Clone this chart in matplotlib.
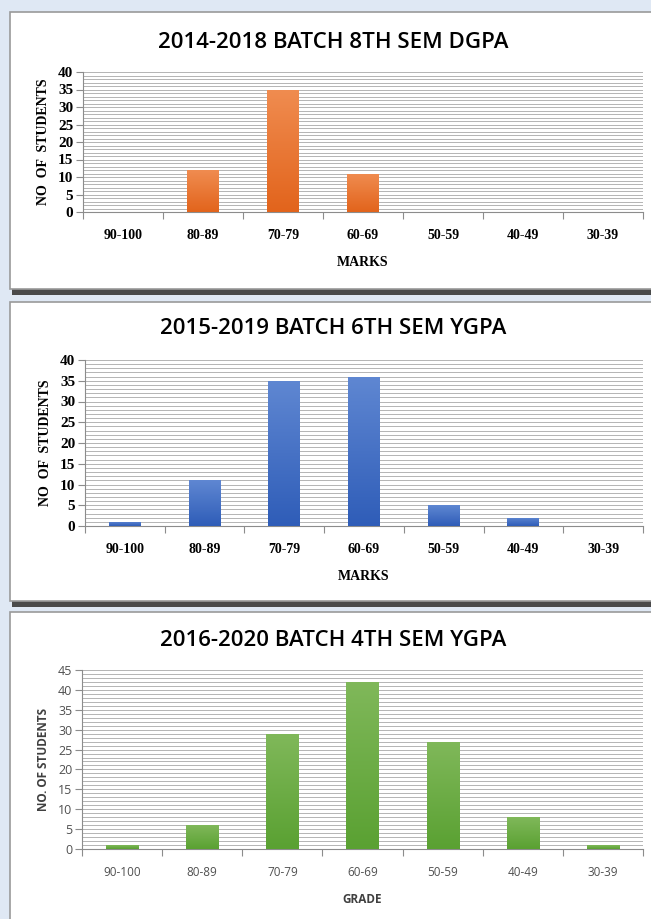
import numpy as np
import matplotlib.pyplot as plt
from matplotlib.patches import Rectangle
from matplotlib.ticker import MultipleLocator, FixedLocator

categories = ['90-100', '80-89', '70-79', '60-69', '50-59', '40-49', '30-39']
batch_2014 = [0, 12, 35, 11, 0, 0, 0]
batch_2015 = [1, 11, 35, 36, 5, 2, 0]
batch_2016 = [1, 6, 29, 42, 27, 8, 1]

titles = ['2014-2018 BATCH 8TH SEM DGPA', '2015-2019 BATCH 6TH SEM YGPA', '2016-2020 BATCH 4TH SEM YGPA']

W, H = 651, 919
fig = plt.figure(figsize=(W / 100, H / 100), dpi=100)
fig.patch.set_facecolor('#dfe8f4')


def fx(px):
    return px / W


def fy(py):
    return 1 - py / H


# white panels with a dark shadow underneath
panels = [(12, 289), (302, 601), (612, 925)]
for top, bot in panels:
    fig.add_artist(Rectangle((fx(12), fy(bot + 6)), 1, 6 / H,
                             transform=fig.transFigure, facecolor='#4a4a4a', edgecolor='none', zorder=0))
    fig.add_artist(Rectangle((fx(10), fy(bot)), 1, (bot - top) / H,
                             transform=fig.transFigure, facecolor='white', edgecolor='#9a9a9a',
                             linewidth=1.2, zorder=1))


def gradient_bars(ax, values, c_top, c_bot):
    x = np.arange(len(values))
    bars = ax.bar(x, values, width=0.4, color=c_bot, zorder=3, edgecolor='none')
    grad = np.linspace(0, 1, 100).reshape(-1, 1)
    c1 = np.array(plt.matplotlib.colors.to_rgb(c_top))
    c2 = np.array(plt.matplotlib.colors.to_rgb(c_bot))
    img = c1 + (c2 - c1) * grad[:, :, None]
    for b in bars:
        h = b.get_height()
        if h <= 0:
            continue
        bx = b.get_x()
        im = ax.imshow(img, extent=[bx, bx + b.get_width(), 0, h], aspect='auto',
                       origin='upper', zorder=4)
        im.set_clip_path(b)


def style_axes(ax, ymax, ystep, serif, ylabel, xlabel):
    ax.set_xlim(-0.5, len(categories) - 0.5)
    ax.set_ylim(0, ymax)
    ax.yaxis.set_major_locator(MultipleLocator(ystep))
    ax.yaxis.set_minor_locator(MultipleLocator(1))
    ax.grid(axis='y', which='both', color='#b4b4b4', linewidth=0.7, zorder=0)
    ax.set_axisbelow(True)
    ax.set_xticks(np.arange(len(categories)))
    ax.xaxis.set_minor_locator(FixedLocator(np.arange(-0.5, len(categories), 1.0)))
    ax.tick_params(axis='x', which='major', length=0, pad=12)
    ax.tick_params(axis='x', which='minor', length=5, color='#8c8c8c', width=0.8)
    ax.tick_params(axis='y', which='major', length=5, color='#8c8c8c', width=0.8, pad=2)
    ax.tick_params(axis='y', which='minor', length=0)
    for s in ['top', 'right']:
        ax.spines[s].set_visible(False)
    ax.spines['left'].set_color('#8c8c8c')
    ax.spines['bottom'].set_color('#8c8c8c')
    if serif:
        fam = 'Liberation Serif'
        ax.set_xticklabels(categories, fontfamily=fam, fontweight='bold', fontsize=10)
        for t in ax.get_yticklabels():
            t.set_fontfamily(fam)
            t.set_fontweight('bold')
            t.set_fontsize(11)
        ax.set_ylabel(ylabel, fontfamily=fam, fontweight='bold', fontsize=10, labelpad=6)
        ax.set_xlabel(xlabel, fontfamily=fam, fontweight='bold', fontsize=10, labelpad=10)
    else:
        fam = 'Open Sans'
        ax.set_xticklabels(categories, fontfamily=fam, fontsize=8.5, color='#505050')
        for t in ax.get_yticklabels():
            t.set_fontfamily(fam)
            t.set_fontsize(9)
            t.set_color('#505050')
        ax.set_ylabel(ylabel, fontfamily=fam, fontweight='bold', fontsize=8.5, color='#404040', labelpad=6)
        ax.set_xlabel(xlabel, fontfamily=fam, fontweight='bold', fontsize=8.5, color='#404040', labelpad=10)


# panel 1
ax1 = fig.add_axes([fx(83), fy(212), fx(643) - fx(83), (212 - 72) / H], zorder=2)
ax1.set_facecolor('none')
gradient_bars(ax1, batch_2014, '#f08c50', '#e2641c')
style_axes(ax1, 40, 5, True, 'NO  OF  STUDENTS', 'MARKS')
fig.text(fx(333), fy(43), titles[0], ha='center', va='center', fontsize=16,
         fontfamily='Open Sans', fontweight='semibold', zorder=3)

# panel 2
ax2 = fig.add_axes([fx(85), fy(526), fx(643) - fx(85), (526 - 360) / H], zorder=2)
ax2.set_facecolor('none')
gradient_bars(ax2, batch_2015, '#5f87d2', '#2f5db8')
style_axes(ax2, 40, 5, True, 'NO  OF  STUDENTS', 'MARKS')
fig.text(fx(333), fy(329), titles[1], ha='center', va='center', fontsize=16,
         fontfamily='Open Sans', fontweight='semibold', zorder=3)

# panel 3
ax3 = fig.add_axes([fx(82), fy(849), fx(643) - fx(82), (849 - 670) / H], zorder=2)
ax3.set_facecolor('none')
gradient_bars(ax3, batch_2016, '#80b85a', '#5aa132')
style_axes(ax3, 45, 5, False, 'NO. OF STUDENTS', 'GRADE')
fig.text(fx(333), fy(641), titles[2], ha='center', va='center', fontsize=16,
         fontfamily='Open Sans', fontweight='semibold', zorder=3)

fig.savefig('out.png', dpi=100)
